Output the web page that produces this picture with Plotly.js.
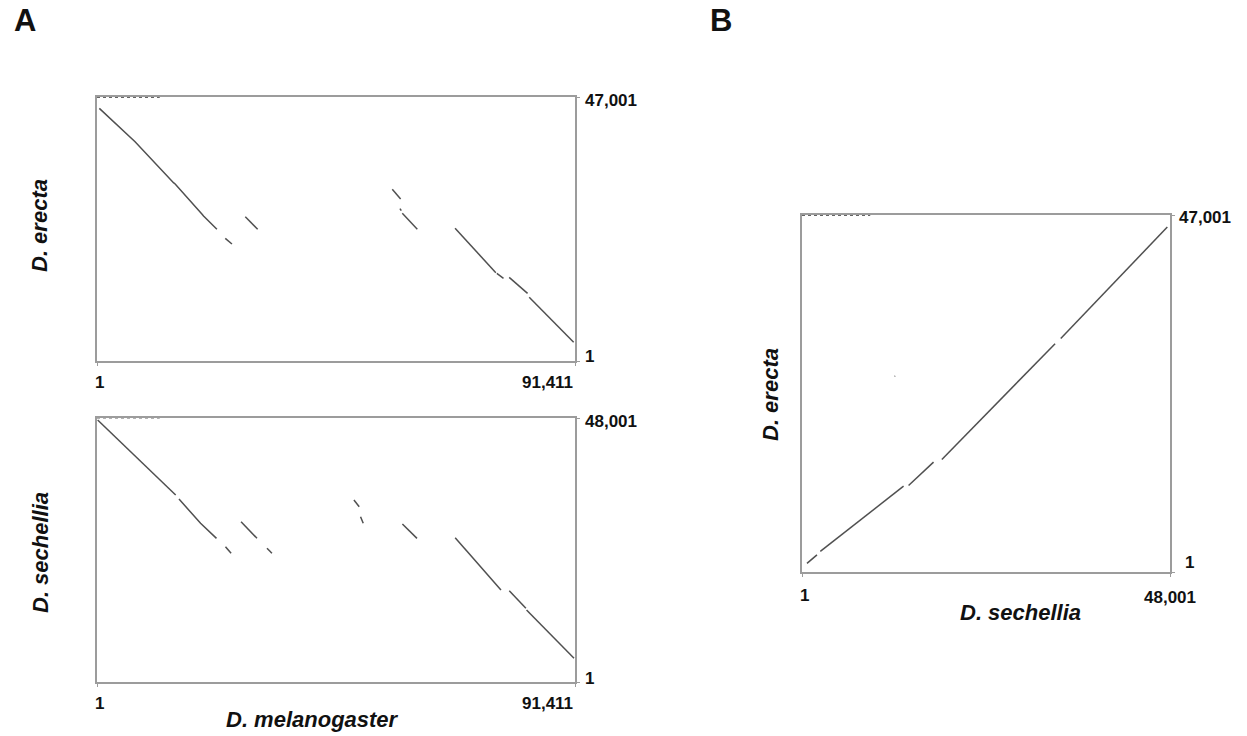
<!DOCTYPE html>
<html>
<head>
<meta charset="utf-8">
<script src="https://cdn.plot.ly/plotly-3.0.1.min.js"></script>
<style>
  html, body { margin: 0; padding: 0; background: #fff; }
  #chart { width: 1247px; height: 736px; }
</style>
</head>
<body>
<div id="chart"></div>
<script>
// ---- Data (sequence coordinates) ----
const melLen = 91411;
const erectaLen = 47001;
const sechelliaLen = 48001;

// Panel A top: D. melanogaster (x) vs D. erecta (y)
const erectaVsMelX = [447, 6643, 7282, 14627, 14947, 20058, 20376, 22932, null,
  24529, 25806, null,
  28361, 30725, null,
  56467, 58064, null,
  57935, 58190, null,
  58383, 61257, null,
  68476, 76269, null,
  76461, 77737, null,
  78825, 82339, null,
  82655, 91153];
const erectaVsMelY = [44983, 39642, 39048, 31749, 31511, 26170, 25814, 23442, null,
  21838, 20830, null,
  25696, 23442, null,
  30562, 28841, null,
  27120, 26764, null,
  26290, 23442, null,
  23620, 15725, null,
  15607, 14717, null,
  14895, 12048, null,
  11335, 3324];

// Panel A bottom: D. melanogaster (x) vs D. sechellia (y)
const sechVsMelX = [127, 6793, 15045, null,
  15680, 19806, 22853, null,
  24567, 25646, null,
  27551, 30598, null,
  32502, 33455, null,
  49134, 50149, null,
  50403, 50911, null,
  58402, 61195, null,
  68495, 77254, null,
  78842, 82016, null,
  82143, 91221];
const sechVsMelY = [47636, 41576, 33999, null,
  33273, 28848, 26121, null,
  24605, 23394, null,
  29151, 26121, null,
  24302, 23394, null,
  33091, 31878, null,
  30060, 28848, null,
  28727, 26121, null,
  26241, 16727, null,
  16606, 13394, null,
  13091, 4303];

// Panel B: D. sechellia (x) vs D. erecta (y)
const erectaVsSechX = [652, 1955, null,
  2389, 13249, null,
  13900, 17158, null,
  18244, 33013, null,
  33752, 47652, null,
  12076, 12160];
const erectaVsSechY = [1130, 2260, null,
  2712, 11298, null,
  11388, 14461, null,
  14823, 30053, null,
  30731, 45419, null,
  25760, 25780];

// faint header remnants along the top border of each box
const topMarkAX = [1, 12000];
const topMarkBX = [1, 8900];

// tick labels
const xTickA = ['1', '91,411'];
const xTickB = ['1', '48,001'];
const yTickErecta = ['1', '47,001'];
const yTickSech = ['1', '48,001'];

// ---- Styling ----
const FONT = '"Liberation Sans", Arial, Helvetica, sans-serif';
const dotColor = '#505050';
const frameColor = '#9c9c9c';

function lineTrace(x, y, xa, ya, extra) {
  return Object.assign({
    type: 'scatter', mode: 'lines', x: x, y: y, xaxis: xa, yaxis: ya,
    connectgaps: false, hoverinfo: 'skip', showlegend: false,
    line: { color: dotColor, width: 1.5 }
  }, extra || {});
}

const traces = [
  lineTrace(erectaVsMelX, erectaVsMelY, 'x', 'y'),
  lineTrace(sechVsMelX, sechVsMelY, 'x2', 'y2'),
  lineTrace(erectaVsSechX, erectaVsSechY, 'x3', 'y3'),
  lineTrace(topMarkAX, [erectaLen, erectaLen], 'x', 'y', { line: { color: '#333', width: 1.5, dash: 'dot' } }),
  lineTrace(topMarkAX, [sechelliaLen, sechelliaLen], 'x2', 'y2', { line: { color: '#666', width: 1.2, dash: 'dot' } }),
  lineTrace(topMarkBX, [erectaLen, erectaLen], 'x3', 'y3', { line: { color: '#333', width: 1.5, dash: 'dot' } })
];

function W(px) { return px / 1247; }
function H(py) { return 1 - py / 736; }

function xAxis(domain, max, anchor) {
  return {
    domain: domain, range: [1, max], anchor: anchor,
    showline: true, mirror: true, linecolor: frameColor, linewidth: 1.6,
    showgrid: false, zeroline: false, showticklabels: false,
    ticks: 'outside', ticklen: 3, tickcolor: frameColor, tickwidth: 1,
    tickvals: [1, max], fixedrange: true
  };
}
function yAxis(domain, max, anchor) {
  return {
    domain: domain, range: [1, max], anchor: anchor, side: 'right',
    showline: true, mirror: true, linecolor: frameColor, linewidth: 1.6,
    showgrid: false, zeroline: false, showticklabels: false,
    ticks: 'outside', ticklen: 3, tickcolor: frameColor, tickwidth: 1,
    tickvals: [1, max], fixedrange: true
  };
}

const tickFont = { family: FONT, size: 17, color: '#111' };
const titleFont = { family: FONT, size: 22, color: '#111' };

function ann(text, x, y, opts) {
  return Object.assign({
    text: text, x: x, y: y, xref: 'paper', yref: 'paper', showarrow: false,
    xanchor: 'center', yanchor: 'middle', font: tickFont
  }, opts || {});
}
function B(s) { return '<b>' + s + '</b>'; }

const annotations = [
  // panel letters
  ann(B('A'), W(25), H(20), { font: { family: FONT, size: 31, color: '#111' } }),
  ann(B('B'), W(721), H(20), { font: { family: FONT, size: 31, color: '#111' } }),

  // Panel A top tick labels
  ann(B(xTickA[0]), 1, H(383), { xref: 'x', xanchor: 'left', xshift: -4 }),
  ann(B(xTickA[1]), melLen, H(383), { xref: 'x', xanchor: 'right' }),
  ann(B(yTickErecta[1]), W(583), H(100), { xanchor: 'left' }),
  ann(B(yTickErecta[0]), W(583), H(356), { xanchor: 'left' }),

  // Panel A bottom tick labels
  ann(B(xTickA[0]), 1, H(703), { xref: 'x2', xanchor: 'left', xshift: -4 }),
  ann(B(xTickA[1]), melLen, H(703), { xref: 'x2', xanchor: 'right' }),
  ann(B(yTickSech[1]), W(583), H(421), { xanchor: 'left' }),
  ann(B(yTickSech[0]), W(583), H(678), { xanchor: 'left' }),

  // Panel B tick labels
  ann(B(xTickB[0]), 1, H(595), { xref: 'x3', xanchor: 'left', xshift: -4 }),
  ann(B(xTickB[1]), sechelliaLen, H(597), { xref: 'x3', xanchor: 'center' }),
  ann(B(yTickErecta[1]), W(1177), H(217), { xanchor: 'left' }),
  ann(B(yTickErecta[0]), W(1183), H(562), { xanchor: 'left' }),

  // axis titles
  ann('<b><i>D. erecta</i></b>', W(40), H(226), { textangle: -90, font: titleFont }),
  ann('<b><i>D. sechellia</i></b>', W(40), H(553), { textangle: -90, font: titleFont }),
  ann('<b><i>D. melanogaster</i></b>', W(312), H(719), { font: titleFont }),
  ann('<b><i>D. erecta</i></b>', W(770), H(395), { textangle: -90, font: titleFont }),
  ann('<b><i>D. sechellia</i></b>', W(1020), H(612), { font: titleFont })
];

const layout = {
  width: 1247, height: 736,
  margin: { l: 0, r: 0, t: 0, b: 0 },
  paper_bgcolor: '#fff', plot_bgcolor: '#fff',
  showlegend: false,
  xaxis: xAxis([W(97), W(575)], melLen, 'y'),
  yaxis: yAxis([H(361), H(97)], erectaLen, 'x'),
  xaxis2: xAxis([W(97), W(575)], melLen, 'y2'),
  yaxis2: yAxis([H(682), H(418)], sechelliaLen, 'x2'),
  xaxis3: xAxis([W(802), W(1170)], sechelliaLen, 'y3'),
  yaxis3: yAxis([H(572), H(215)], erectaLen, 'x3'),
  annotations: annotations
};

Plotly.newPlot('chart', traces, layout, { displayModeBar: false, staticPlot: true });
</script>
</body>
</html>
